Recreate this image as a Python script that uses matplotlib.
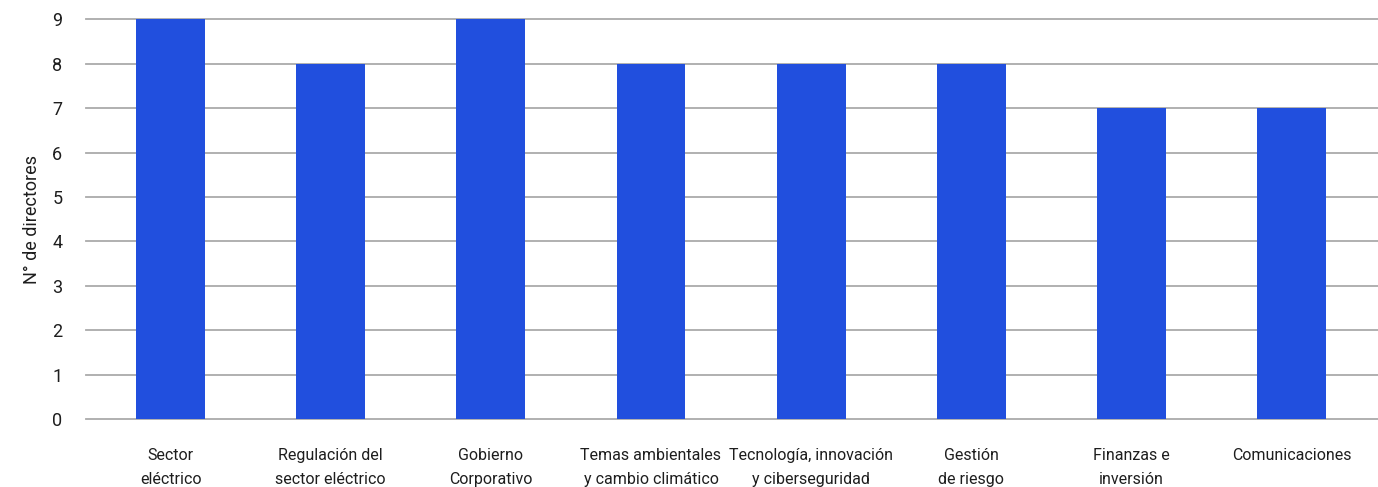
import matplotlib
matplotlib.use("Agg")
import matplotlib.pyplot as plt
import numpy as np

categories = ["Sector\neléctrico", "Regulación del\nsector eléctrico", "Gobierno\nCorporativo",
              "Temas ambientales\ny cambio climático", "Tecnología, innovación\ny ciberseguridad",
              "Gestión\nde riesgo", "Finanzas e\ninversión", "Comunicaciones"]
values = [9, 8, 9, 8, 8, 8, 7, 7]
yticks = [0, 1, 2, 3, 4, 5, 6, 7, 8, 9]
ylabel = "N° de directores"

plt.rcParams['font.family'] = ['Roboto', 'DejaVu Sans']

fig = plt.figure(figsize=(13.78, 4.87), dpi=100)
ax = fig.add_axes([0.0624, 0.1396, 0.9376, 0.8204])

x = np.arange(len(categories))
ax.bar(x, values, width=0.43, color="#214fde", zorder=2)

ax.set_ylim(0, 9)
ax.set_xlim(-0.528, 7.54)
ax.set_yticks(yticks)
ax.set_yticklabels([str(t) for t in yticks], fontsize=13, color="#1e1e1e")
ax.set_xticks(x)
ax.set_xticklabels(categories, fontsize=11.5, color="#1e1e1e", linespacing=1.7)
ax.tick_params(axis="x", length=0, pad=21)
ax.tick_params(axis="y", length=0, pad=17)
ax.yaxis.grid(True, color="#aaaaaa", linewidth=1.3, zorder=1)
for gl in ax.get_ygridlines():
    gl.set_clip_on(False)
for s in ax.spines.values():
    s.set_visible(False)
ax.set_ylabel(ylabel, fontsize=13, color="#1e1e1e", labelpad=8)

fig.savefig("out.png", dpi=100)
